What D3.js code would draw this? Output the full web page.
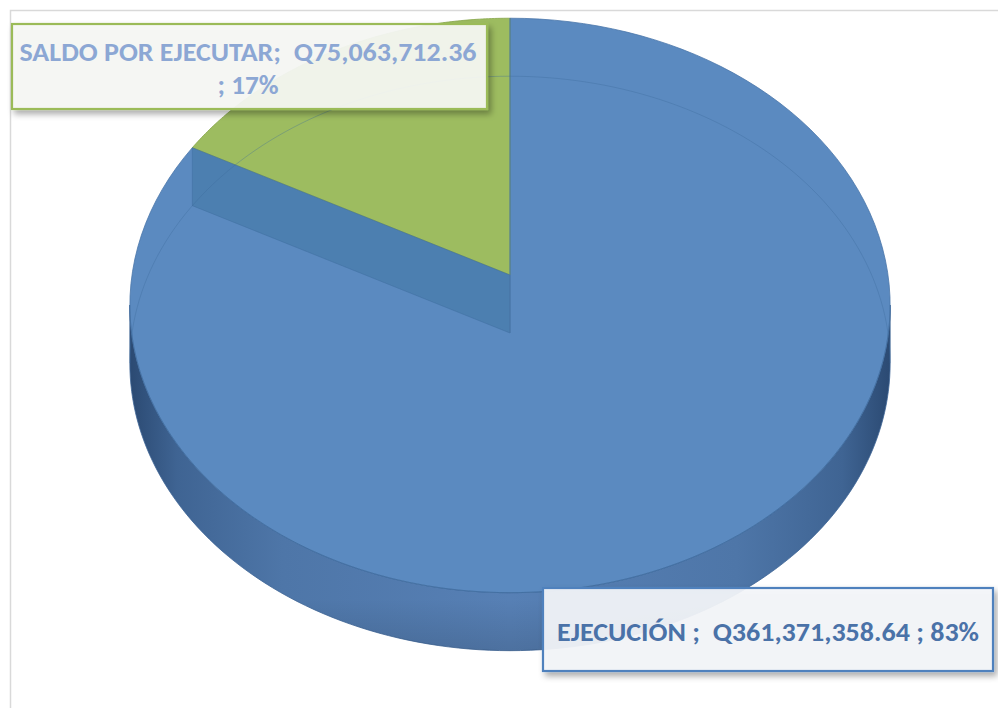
<!DOCTYPE html>
<html><head><meta charset="utf-8">
<script src="https://cdn.jsdelivr.net/npm/d3@7"></script>
<style>html,body{margin:0;padding:0;background:#fff;}svg{display:block;}</style>
</head><body>
<svg id="chart" width="998" height="708"></svg>
<script>
const categories = ["EJECUCIÓN", "SALDO POR EJECUTAR"];
const values = [361371358.64, 75063712.36];
const sliceColors = ["#5B8AC0", "#9DBC60"];
const labelColors = ["#4A72A8", "#8CA7D4"];
const borderColors = ["#4F81BD", "#9BBB59"];

const W = 998, H = 708;
const svg = d3.select("#chart");
const defs = svg.append("defs");

// frame
svg.append("path").attr("d", `M10.5,${H} V10.5 H${W}`).attr("fill","none").attr("stroke","#d9d9d9").attr("stroke-width",1.5);

// perspective parameters
const X0 = 510, Y0 = 275, A = 378, B = 284, K = 0.106, DEPTH = 58;
const xs = d3.scaleLinear().domain([-1, 1]).range([X0 - A, X0 + A]);
const ys = d3.scaleLinear().domain([-1, 1]).range([Y0 + B, Y0 - B]);
function proj(theta, r, drop) {
  const u = r * Math.sin(theta), v = r * Math.cos(theta), w = 1 + K * v;
  return [xs(u / w), ys(v / w) + (drop || 0)];
}
const pie = d3.pie().sort(null).value(d => d)(values);
const total = d3.sum(values);
const line = d3.line();
const rim = (a0, a1, drop) => d3.range(0, 121).map(i => proj(a0 + (a1 - a0) * i / 120, 1, drop));

// side gradient
const sg = defs.append("linearGradient").attr("id","side").attr("gradientUnits","userSpaceOnUse")
  .attr("x1", X0 - A).attr("x2", X0 + A).attr("y1", 0).attr("y2", 0);
[[0,"#2c4b74"],[0.06,"#3f6493"],[0.2,"#4e76a8"],[0.5,"#5780b5"],[0.8,"#4e76a8"],[0.94,"#3f6493"],[1,"#2c4b74"]]
  .forEach(([o,c]) => sg.append("stop").attr("offset", o).attr("stop-color", c));
const sv = defs.append("linearGradient").attr("id","sideV").attr("x1",0).attr("x2",0).attr("y1",0).attr("y2",1);
sv.append("stop").attr("offset",0).attr("stop-color","#000").attr("stop-opacity",0.0);
sv.append("stop").attr("offset",0.85).attr("stop-color","#000").attr("stop-opacity",0.0);
sv.append("stop").attr("offset",1).attr("stop-color","#000").attr("stop-opacity",0.12);

// find silhouette of top rim
const full = d3.range(0, 721).map(i => i / 720 * 2 * Math.PI);
let iL = 0, iR = 0;
full.forEach((t, i) => { const p = proj(t, 1); if (p[0] < proj(full[iL],1)[0]) iL = i; if (p[0] > proj(full[iR],1)[0]) iR = i; });
const tR = full[iR], tL = full[iL];
const topFront = rim(tR, tL, 0);
const botFront = rim(tR, tL, DEPTH).reverse();
svg.append("path").attr("d", line(topFront.concat(botFront)) + "Z").attr("fill","url(#side)")
  .attr("stroke","#3d6595").attr("stroke-width",0.8);
svg.append("path").attr("d", line(topFront.concat(botFront)) + "Z").attr("fill","url(#sideV)");

// top faces
pie.forEach((d, i) => {
  const pts = [[X0, Y0]].concat(rim(d.startAngle, d.endAngle, 0));
  svg.append("path").attr("d", line(pts) + "Z").attr("fill", sliceColors[i])
    .attr("stroke", i === 0 ? "#4a76aa" : "#86a64a").attr("stroke-width", 0.8).attr("stroke-linejoin","round");
});

// see-through radial wall of the first slice at its end angle
const ea = pie[0].endAngle;
const wall = [[X0, Y0], proj(ea, 1, 0), proj(ea, 1, DEPTH), [X0, Y0 + DEPTH]];
svg.append("path").attr("d", line(wall) + "Z").attr("fill", "#4A7DAE").attr("fill-opacity", 0.9)
  .attr("stroke", "#3f6f9f").attr("stroke-width", 0.7).attr("stroke-opacity", 0.7);
svg.append("line").attr("x1", X0).attr("x2", X0).attr("y1", proj(0,1)[1]).attr("y2", Y0 + DEPTH)
  .attr("stroke", "#4a76a6").attr("stroke-width", 1);

// faint rims seen through
svg.append("path").attr("d", line(rim(tL, tR + 2 * Math.PI, DEPTH))).attr("fill","none")
  .attr("stroke","#3c6a9c").attr("stroke-opacity",0.35).attr("stroke-width",1);
svg.append("path").attr("d", line(rim(tR, tL, 0))).attr("fill","none")
  .attr("stroke","#3c6a9c").attr("stroke-opacity",0.5).attr("stroke-width",1);

// labels
const sh = defs.append("filter").attr("id","shadow").attr("x","-10%").attr("y","-20%").attr("width","130%").attr("height","160%");
sh.append("feDropShadow").attr("dx",3).attr("dy",4).attr("stdDeviation",3).attr("flood-color","#000").attr("flood-opacity",0.35);
const fmt = d3.format(",.2f"), pct = d3.format(".0%");
const boxes = [
  {i: 1, x: 12, y: 24, w: 475, h: 85,
   lines: [`${categories[1]};  Q${fmt(values[1])}`, `; ${pct(values[1]/total)}`],
   tx: [248, 248], ty: [61, 94], tl: [457, 61]},
  {i: 0, x: 543, y: 588, w: 450, h: 83,
   lines: [`${categories[0]} ;  Q${fmt(values[0])} ; ${pct(values[0]/total)}`],
   tx: [768], ty: [641], tl: [422]}
];
boxes.forEach(b => {
  const g = svg.append("g");
  g.append("rect").attr("x", b.x).attr("y", b.y).attr("width", b.w).attr("height", b.h)
    .attr("fill", b.i === 1 ? "#f7f8f5" : "#f4f6fa").attr("fill-opacity", 0.92)
    .attr("stroke", borderColors[b.i]).attr("stroke-width", 2.2).attr("filter","url(#shadow)");
  b.lines.forEach((t, j) => {
    g.append("text").attr("x", b.tx[j]).attr("y", b.ty[j]).attr("text-anchor","middle")
      .style("white-space","pre").attr("font-family","Carlito, 'Liberation Sans Narrow', 'Open Sans', sans-serif")
      .attr("font-weight","bold").attr("font-size", 27).attr("fill", labelColors[b.i])
      .attr("textLength", b.tl[j]).attr("lengthAdjust","spacingAndGlyphs").text(t);
  });
});
</script>
</body></html>
